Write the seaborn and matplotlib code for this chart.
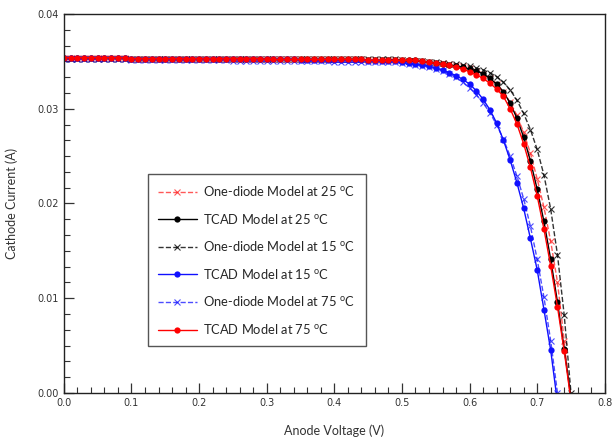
import matplotlib

matplotlib.use("Agg")
import matplotlib.pyplot as plt
import numpy as np
import pandas as pd
import seaborn as sns
from matplotlib.ticker import AutoMinorLocator, MultipleLocator

sns.set_style("ticks")
plt.rcParams["font.family"] = ["Lato", "DejaVu Sans"]
plt.rcParams["mathtext.fontset"] = "custom"
plt.rcParams["mathtext.rm"] = "Lato"

nan = np.nan

# anode voltage grid (V)
voltage = [
    0.00, 0.01, 0.02, 0.03, 0.04, 0.05, 0.06, 0.07, 0.08, 0.09,
    0.10, 0.11, 0.12, 0.13, 0.14, 0.15, 0.16, 0.17, 0.18, 0.19,
    0.20, 0.21, 0.22, 0.23, 0.24, 0.25, 0.26, 0.27, 0.28, 0.29,
    0.30, 0.31, 0.32, 0.33, 0.34, 0.35, 0.36, 0.37, 0.38, 0.39,
    0.40, 0.41, 0.42, 0.43, 0.44, 0.45, 0.46, 0.47, 0.48, 0.49,
    0.50, 0.51, 0.52, 0.53, 0.54, 0.55, 0.56, 0.57, 0.58, 0.59,
    0.60, 0.61, 0.62, 0.63, 0.64, 0.65, 0.66, 0.67, 0.68, 0.69,
    0.70, 0.71, 0.72, 0.73, 0.74, 0.75,
]

# cathode current (A), one list per curve
diode_25 = [
    0.0354, 0.0354, 0.0354, 0.0354, 0.0354, 0.0354, 0.0354, 0.0354, 0.0354, 0.0354,
    0.0353, 0.0353, 0.0353, 0.0353, 0.0353, 0.0353, 0.0353, 0.0353, 0.0353, 0.0353,
    0.0353, 0.0353, 0.0353, 0.0353, 0.0353, 0.0353, 0.0353, 0.0353, 0.0353, 0.0353,
    0.0352, 0.0352, 0.0352, 0.0352, 0.0352, 0.0352, 0.0352, 0.0352, 0.0352, 0.0352,
    0.0352, 0.0352, 0.0352, 0.0352, 0.0352, 0.0351, 0.0351, 0.0351, 0.0351, 0.0351,
    0.0351, 0.0350, 0.0350, 0.0350, 0.0349, 0.0348, 0.0348, 0.0347, 0.0346, 0.0345,
    0.0343, 0.0340, 0.0337, 0.0332, 0.0326, 0.0318, 0.0307, 0.0293, 0.0275, 0.0253,
    0.0226, 0.0196, 0.0160, 0.0117, 0.0055, -0.0012,
]
tcad_25 = [
    0.0354, 0.0354, 0.0354, 0.0354, 0.0354, 0.0354, 0.0354, 0.0354, 0.0354, 0.0354,
    0.0353, 0.0353, 0.0353, 0.0353, 0.0353, 0.0353, 0.0353, 0.0353, 0.0353, 0.0353,
    0.0353, 0.0353, 0.0353, 0.0353, 0.0353, 0.0353, 0.0353, 0.0353, 0.0353, 0.0353,
    0.0352, 0.0352, 0.0352, 0.0352, 0.0352, 0.0352, 0.0352, 0.0352, 0.0352, 0.0352,
    0.0352, 0.0352, 0.0352, 0.0352, 0.0352, 0.0351, 0.0351, 0.0351, 0.0351, 0.0351,
    0.0351, 0.0351, 0.0351, 0.0350, 0.0349, 0.0348, 0.0347, 0.0346, 0.0345, 0.0344,
    0.0342, 0.0340, 0.0337, 0.0332, 0.0326, 0.0318, 0.0306, 0.0290, 0.0270, 0.0245,
    0.0215, 0.0181, 0.0141, 0.0096, 0.0046, -0.0004,
]
diode_15 = [
    0.0353, 0.0353, 0.0353, 0.0353, 0.0353, 0.0353, 0.0353, 0.0353, 0.0353, 0.0353,
    0.0353, 0.0353, 0.0353, 0.0353, 0.0353, 0.0353, 0.0353, 0.0353, 0.0353, 0.0353,
    0.0353, 0.0353, 0.0353, 0.0353, 0.0353, 0.0353, 0.0353, 0.0353, 0.0353, 0.0353,
    0.0352, 0.0352, 0.0352, 0.0352, 0.0352, 0.0352, 0.0352, 0.0352, 0.0352, 0.0352,
    0.0352, 0.0352, 0.0352, 0.0352, 0.0352, 0.0352, 0.0352, 0.0352, 0.0352, 0.0352,
    0.0351, 0.0350, 0.0350, 0.0350, 0.0349, 0.0349, 0.0348, 0.0347, 0.0347, 0.0346,
    0.0345, 0.0343, 0.0341, 0.0338, 0.0334, 0.0328, 0.0320, 0.0309, 0.0295, 0.0278,
    0.0257, 0.0230, 0.0194, 0.0146, 0.0082, 0.0000,
]
tcad_15 = [
    0.0354, 0.0354, 0.0354, 0.0354, 0.0354, 0.0354, 0.0354, 0.0354, 0.0354, 0.0354,
    0.0353, 0.0353, 0.0353, 0.0353, 0.0353, 0.0353, 0.0353, 0.0353, 0.0353, 0.0353,
    0.0352, 0.0352, 0.0352, 0.0352, 0.0352, 0.0352, 0.0352, 0.0352, 0.0352, 0.0352,
    0.0352, 0.0352, 0.0352, 0.0352, 0.0352, 0.0351, 0.0351, 0.0351, 0.0351, 0.0351,
    0.0351, 0.0351, 0.0351, 0.0351, 0.0351, 0.0350, 0.0350, 0.0350, 0.0350, 0.0350,
    0.0349, 0.0348, 0.0347, 0.0346, 0.0345, 0.0343, 0.0341, 0.0338, 0.0335, 0.0331,
    0.0326, 0.0319, 0.0310, 0.0299, 0.0285, 0.0267, 0.0246, 0.0222, 0.0195, 0.0163,
    0.0130, 0.0088, 0.0045, -0.0010, nan, nan,
]
diode_75 = [
    0.0352, 0.0352, 0.0352, 0.0352, 0.0352, 0.0352, 0.0352, 0.0352, 0.0352, 0.0352,
    0.0351, 0.0351, 0.0351, 0.0351, 0.0351, 0.0351, 0.0351, 0.0351, 0.0351, 0.0351,
    0.0351, 0.0351, 0.0351, 0.0351, 0.0351, 0.0350, 0.0350, 0.0350, 0.0350, 0.0350,
    0.0350, 0.0350, 0.0350, 0.0350, 0.0350, 0.0350, 0.0350, 0.0350, 0.0350, 0.0350,
    0.0349, 0.0349, 0.0349, 0.0349, 0.0349, 0.0349, 0.0349, 0.0349, 0.0349, 0.0349,
    0.0348, 0.0347, 0.0346, 0.0345, 0.0344, 0.0342, 0.0340, 0.0337, 0.0333, 0.0328,
    0.0322, 0.0315, 0.0306, 0.0296, 0.0283, 0.0268, 0.0250, 0.0229, 0.0205, 0.0176,
    0.0141, 0.0101, 0.0055, 0.0000, nan, nan,
]
tcad_75 = [
    0.0354, 0.0354, 0.0354, 0.0354, 0.0354, 0.0354, 0.0354, 0.0354, 0.0354, 0.0354,
    0.0353, 0.0353, 0.0353, 0.0353, 0.0353, 0.0353, 0.0353, 0.0353, 0.0353, 0.0353,
    0.0353, 0.0353, 0.0353, 0.0353, 0.0353, 0.0353, 0.0353, 0.0353, 0.0353, 0.0353,
    0.0352, 0.0352, 0.0352, 0.0352, 0.0352, 0.0352, 0.0352, 0.0352, 0.0352, 0.0352,
    0.0352, 0.0352, 0.0352, 0.0352, 0.0352, 0.0351, 0.0351, 0.0351, 0.0351, 0.0351,
    0.0351, 0.0351, 0.0351, 0.0350, 0.0349, 0.0348, 0.0347, 0.0346, 0.0344, 0.0342,
    0.0339, 0.0336, 0.0332, 0.0327, 0.0321, 0.0313, 0.0300, 0.0284, 0.0263, 0.0238,
    0.0208, 0.0173, 0.0134, 0.0091, 0.0044, -0.0008,
]

deg = r" $^{\mathrm{o}}$C"
series = [
    ("One-diode Model at 25" + deg, diode_25, "#ff2020", "--", "x", 0.75),
    ("TCAD Model at 25" + deg, tcad_25, "black", "-", "o", 1.0),
    ("One-diode Model at 15" + deg, diode_15, "black", "--", "x", 0.8),
    ("TCAD Model at 15" + deg, tcad_15, "#1010ff", "-", "o", 1.0),
    ("One-diode Model at 75" + deg, diode_75, "#1010ff", "--", "x", 0.75),
    ("TCAD Model at 75" + deg, tcad_75, "#ff0000", "-", "o", 1.0),
]

fig, ax = plt.subplots(figsize=(6.14, 4.38), dpi=100)
fig.subplots_adjust(left=0.104, right=0.985, top=0.968, bottom=0.103)

for label, current, color, ls, mk, alpha in series:
    df = pd.DataFrame({"V": voltage, "I": current}).dropna()
    sns.lineplot(
        data=df, x="V", y="I", ax=ax, label=label, color=color,
        linestyle=ls, linewidth=1.0, marker=mk, alpha=alpha,
        markersize=4.5 if mk == "o" else 5, markeredgewidth=0.8 if mk == "x" else 0,
        markeredgecolor=color, estimator=None, sort=False,
    )

ax.set_xlim(0, 0.8)
ax.set_ylim(0, 0.04)
ax.xaxis.set_major_locator(MultipleLocator(0.1))
ax.yaxis.set_major_locator(MultipleLocator(0.01))
ax.xaxis.set_minor_locator(AutoMinorLocator(5))
ax.yaxis.set_minor_locator(AutoMinorLocator(6))
ax.xaxis.set_major_formatter(plt.FormatStrFormatter("%.1f"))
ax.yaxis.set_major_formatter(plt.FormatStrFormatter("%.2f"))
ax.tick_params(which="both", direction="in", colors="#333333", labelsize=7,
               top=False, right=False, labelfontfamily="DejaVu Sans")
ax.tick_params(which="major", length=7, width=0.9)
ax.tick_params(which="minor", length=4, width=0.8)
for side in ax.spines.values():
    side.set_color("#222222")
    side.set_linewidth(1.0)

ax.set_xlabel("Anode Voltage (V)", fontsize=9, color="#333333", labelpad=12)
ax.set_ylabel("Cathode Current (A)", fontsize=9, color="#333333", labelpad=14)

leg = ax.legend(
    loc="upper left", bbox_to_anchor=(0.155, 0.578), borderaxespad=0,
    fontsize=9.3, frameon=True, fancybox=False, edgecolor="#555555",
    framealpha=1, handlelength=3.0, labelspacing=1.05, borderpad=0.8,
    handletextpad=0.5,
)
leg.get_frame().set_linewidth(1.0)

fig.savefig("out.png", dpi=100)
